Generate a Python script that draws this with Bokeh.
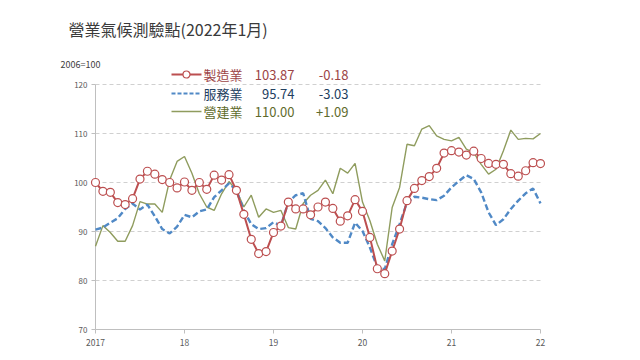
from bokeh.plotting import figure
from bokeh.models import Range1d, Label
from bokeh.core.properties import value
from bokeh.embed import file_html
from bokeh.resources import INLINE

# ---------------- data ----------------
months = list(range(61))  # Jan 2017 .. Jan 2022
manufacturing = [
    100.0, 98.2, 98.0, 95.9, 95.5, 96.7, 100.7, 102.3, 101.7, 100.6, 100.0, 98.9,
    100.1, 98.4, 100.0, 98.6, 101.5, 100.5, 101.6, 98.4, 93.5, 88.4, 85.5, 85.9,
    89.8, 91.1, 96.0, 94.6, 94.6, 93.4, 95.0, 96.0, 94.7, 92.1, 93.2, 96.5,
    94.1, 88.8, 82.4, 81.4, 86.0, 90.5, 96.3, 98.8, 100.4, 101.2, 102.9, 106.0,
    106.5, 106.2, 105.6, 106.4, 104.9, 103.9, 103.7, 103.7, 101.8, 101.3, 102.4, 104.05,
    103.87,
]
services = [
    90.4, 90.8, 91.8, 92.7, 94.6, 95.7, 94.5, 95.5, 93.1, 90.5, 89.6, 91.0,
    93.4, 92.9, 94.1, 94.5, 97.0, 98.4, 99.8, 98.4, 94.3, 91.5, 90.5, 90.7,
    91.9, 91.2, 96.0, 97.4, 97.8, 92.6, 92.1, 90.7, 88.8, 87.7, 87.7, 91.8,
    90.1, 86.7, 82.7, 82.3, 87.4, 91.5, 95.9, 97.1, 96.9, 96.6, 96.4, 97.3,
    99.0, 100.3, 101.5, 100.7, 98.0, 93.9, 91.3, 92.5, 94.6, 96.3, 97.8, 98.77,
    95.74,
]
construction = [
    87.0, 91.2, 89.8, 88.0, 88.0, 91.2, 96.1, 95.6, 95.6, 93.9, 100.5, 104.3,
    105.3, 101.9, 97.7, 95.0, 94.3, 97.7, 100.2, 98.4, 95.0, 97.4, 92.9, 94.6,
    93.9, 94.3, 90.8, 90.5, 95.7, 97.4, 98.4, 100.5, 97.7, 102.9, 101.9, 103.9,
    96.0, 92.2, 87.4, 84.0, 94.9, 99.0, 107.8, 107.5, 110.9, 111.6, 109.5, 108.8,
    108.5, 109.2, 106.8, 106.1, 103.7, 101.7, 102.7, 106.5, 110.7, 108.8, 109.0, 108.91,
    110.00,
]
x_tick_pos = [0, 12, 24, 36, 48, 60]
x_tick_labels = ["2017", "18", "19", "20", "21", "22"]
y_ticks = [70, 80, 90, 100, 110, 120]
y_tick_labels = ["70", "80", "90", "100", "110", "120"]
grid_ticks = [80, 90, 100, 110, 120]
legend_names = ["製造業", "服務業", "營建業"]
legend_values = ["103.87", "95.74", "110.00"]
legend_changes = ["-0.18", "-3.03", "+1.09"]
title_text = "營業氣候測驗點(2022年1月)"
base_text = "2006=100"

# ---------------- styling / geometry ----------------
RED, BLUE, OLIVE = "#bc4f50", "#5089c6", "#8f9c5e"
RED_T, BLUE_T, OLIVE_T = "#9c4446", "#23405f", "#5f6b2c"
AXIS_C, LABEL_C, GRID_C = "#bfbfbf", "#595959", "#d0d0d0"
CJK = "Noto Sans CJK TC"

W, H = 624, 350
X0_PX, X1_PX = 95.0, 540.0        # canvas x of month 0 and month 60
Y_TOP_PX, Y_BOT_PX = 84.0, 329.0  # canvas y of 120 and 70
ppm = (X1_PX - X0_PX) / 60.0
ppu = (Y_BOT_PX - Y_TOP_PX) / 50.0


def xd(px):
    return (px - X0_PX) / ppm


def yd(py):
    return 120 - (py - Y_TOP_PX) / ppu


p = figure(width=W, height=H, output_backend="svg", toolbar_location=None,
           x_range=Range1d(xd(0), xd(W)), y_range=Range1d(yd(H), yd(0)),
           min_border_left=0, min_border_right=0,
           min_border_top=0, min_border_bottom=0)
p.outline_line_color = None
p.background_fill_color = "white"
p.border_fill_color = "white"
p.xaxis.visible = False
p.yaxis.visible = False
p.xgrid.grid_line_color = None
p.ygrid.grid_line_color = None

x_first, x_last = min(x_tick_pos), max(x_tick_pos)
y_low, y_high = min(y_ticks), max(y_ticks)

# dashed horizontal grid
p.segment(x0=[x_first] * len(grid_ticks), y0=grid_ticks,
          x1=[x_last] * len(grid_ticks), y1=grid_ticks,
          line_color=GRID_C, line_width=1, line_dash="4 3")

# y axis
p.segment(x0=[x_first], y0=[y_low], x1=[x_first], y1=[y_high], line_color=AXIS_C, line_width=1)
p.segment(x0=[xd(91)] * len(y_ticks), y0=y_ticks, x1=[x_first] * len(y_ticks), y1=y_ticks,
          line_color=AXIS_C, line_width=1)
p.text(x=[xd(87)] * len(y_ticks), y=y_ticks, text=y_tick_labels,
       text_font=value(CJK), text_font_size="8px", text_color=LABEL_C,
       text_align="right", text_baseline="middle")

# x axis
p.segment(x0=[x_first], y0=[y_low], x1=[x_last], y1=[y_low], line_color=AXIS_C, line_width=1)
p.segment(x0=x_tick_pos, y0=[y_low] * len(x_tick_pos), x1=x_tick_pos,
          y1=[yd(333)] * len(x_tick_pos), line_color=AXIS_C, line_width=1)
p.text(x=x_tick_pos, y=[yd(342)] * len(x_tick_pos), text=x_tick_labels,
       text_font=value(CJK), text_font_size="8.5px", text_color=LABEL_C,
       text_align="center", text_baseline="middle")

# series
p.line(months, construction, line_color=OLIVE, line_width=1.4)
p.line(months, services, line_color=BLUE, line_width=2.4, line_dash="6 3")
p.line(months, manufacturing, line_color=RED, line_width=2)
p.scatter(months, manufacturing, marker="circle", size=8, fill_color="white",
          line_color=RED, line_width=1.2)

# legend block
rows_py = [74, 93, 111]
row_colors = [RED_T, BLUE_T, OLIVE_T]
line_colors = [RED, BLUE, OLIVE]
dashes = ["solid", "4 2", "solid"]
widths = [2, 2, 1.3]
for i in range(3):
    yv = yd(rows_py[i])
    p.line([xd(171), xd(201)], [yv, yv], line_color=line_colors[i],
           line_width=widths[i], line_dash=dashes[i])
    if i == 0:
        p.scatter([xd(186)], [yv], marker="circle", size=7, fill_color="white",
                  line_color=RED, line_width=1.2)
    p.add_layout(Label(x=xd(203), y=yv, text=legend_names[i], text_font=CJK,
                       text_font_size="13px", text_color=row_colors[i],
                       text_baseline="middle", text_align="left"))
    p.add_layout(Label(x=xd(294), y=yv, text=legend_values[i], text_font=CJK,
                       text_font_size="13px", text_color=row_colors[i],
                       text_baseline="middle", text_align="right"))
    p.add_layout(Label(x=xd(348), y=yv, text=legend_changes[i], text_font=CJK,
                       text_font_size="13px", text_color=row_colors[i],
                       text_baseline="middle", text_align="right"))

# titles
p.add_layout(Label(x=xd(68), y=yd(28), text=title_text, text_font=CJK,
                   text_font_size="16px", text_color="#3a3a3a",
                   text_baseline="middle", text_align="left"))
p.add_layout(Label(x=xd(60), y=yd(64), text=base_text, text_font=CJK,
                   text_font_size="9px", text_color="#404040",
                   text_baseline="middle", text_align="left"))

open("out.html", "w").write(file_html(p, INLINE))
